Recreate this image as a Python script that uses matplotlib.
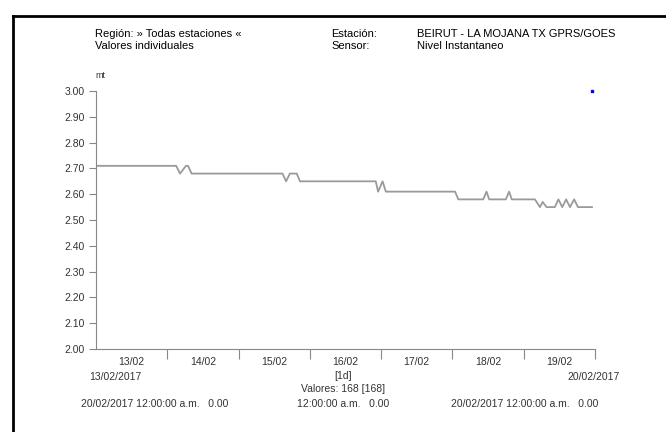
"""
Nivel instantaneo - BEIRUT - LA MOJANA, 13/02/2017 to 20/02/2017.
Saves the figure as out.png.
"""

import matplotlib
matplotlib.use("Agg")
import matplotlib.pyplot as plt
from matplotlib.lines import Line2D

plt.rcParams["font.family"] = ["Liberation Sans Narrow", "Liberation Sans", "DejaVu Sans"]

# hours since 13/02/2017 00:00 and water level (mt) at the line's break points
hours = [0, 27, 28.3, 30.3, 31, 32.2, 62.8, 64, 65.3, 67.6, 68.7,
         94.2, 95, 96.5, 97.6, 120.9, 122, 130.4, 131.5, 132.4,
         138, 139.1, 140, 147.8, 149.5, 150.4, 151.7, 154.5, 155.7,
         157, 158.3, 159.6, 161, 162.3, 167]
level = [2.71, 2.71, 2.68, 2.71, 2.71, 2.68, 2.68, 2.65, 2.68, 2.68, 2.65,
         2.65, 2.61, 2.65, 2.61, 2.61, 2.58, 2.58, 2.61, 2.58,
         2.58, 2.61, 2.58, 2.58, 2.55, 2.57, 2.55, 2.55, 2.58,
         2.55, 2.58, 2.55, 2.58, 2.55, 2.55]

day_labels = ["13/02", "14/02", "15/02", "16/02", "17/02", "18/02", "19/02"]
y_ticks = [2.00, 2.10, 2.20, 2.30, 2.40, 2.50, 2.60, 2.70, 2.80, 2.90, 3.00]

fig = plt.figure(figsize=(6.66, 4.32), dpi=100)
ax = fig.add_axes([0.1441, 0.1921, 0.7492, 0.5972])

ax.plot(hours, level, color="#9a9a9a", lw=1.3)
# the last-value marker in the top right
ax.plot([167], [3.00], marker="s", ms=1.8, color="#0000ff", ls="none", clip_on=False)

ax.set_xlim(0, 168)
ax.set_ylim(2.0, 3.0)

ax.set_yticks(y_ticks)
ax.set_yticklabels([f"{v:.2f}" for v in y_ticks])
ax.set_xticks([24 * (i + 1) for i in range(7)])
ax.set_xticklabels([])
ax.set_xticks([24 * i + 12 for i in range(7)], minor=True)
ax.set_xticklabels(day_labels, minor=True)

ax.tick_params(axis="y", length=5, width=0.8, color="#888888", labelsize=7.5,
               labelcolor="#333333", pad=3)
ax.tick_params(axis="x", which="major", length=7, width=0.8, color="#888888")
ax.tick_params(axis="x", which="minor", length=0, labelsize=7.5,
               labelcolor="#333333", pad=6)

for side in ["top", "right"]:
    ax.spines[side].set_visible(False)
for side in ["left", "bottom"]:
    ax.spines[side].set_color("#888888")
    ax.spines[side].set_linewidth(0.8)

# header
fs = 8
fig.text(95 / 666, 1 - 34 / 432, "Región: » Todas estaciones «", fontsize=fs, va="center")
fig.text(95 / 666, 1 - 46 / 432, "Valores individuales", fontsize=fs, va="center")
fig.text(331 / 666, 1 - 34 / 432, "Estación:", fontsize=fs, va="center")
fig.text(331 / 666, 1 - 46 / 432, "Sensor:", fontsize=fs, va="center")
fig.text(417 / 666, 1 - 34 / 432, "BEIRUT - LA MOJANA TX GPRS/GOES", fontsize=fs, va="center")
fig.text(417 / 666, 1 - 46 / 432, "Nivel Instantaneo", fontsize=fs, va="center")
fig.text(95 / 666, 1 - 75 / 432, "mt", fontsize=6.5, va="center", color="#333333")

# footer
fs2 = 7.5
fig.text(115 / 666, 1 - 377 / 432, "13/02/2017", fontsize=fs2, ha="center", va="center", color="#333333")
fig.text(594 / 666, 1 - 377 / 432, "20/02/2017", fontsize=fs2, ha="center", va="center", color="#333333")
fig.text(343 / 666, 1 - 376 / 432, "[1d]", fontsize=fs2, ha="center", va="center", color="#333333")
fig.text(343 / 666, 1 - 389 / 432, "Valores: 168 [168]", fontsize=fs2, ha="center", va="center", color="#333333")
fig.text(155 / 666, 1 - 404 / 432, "20/02/2017 12:00:00 a.m.   0.00", fontsize=fs2, ha="center", va="center", color="#333333")
fig.text(343 / 666, 1 - 404 / 432, "12:00:00 a.m.   0.00", fontsize=fs2, ha="center", va="center", color="#333333")
fig.text(525 / 666, 1 - 404 / 432, "20/02/2017 12:00:00 a.m.   0.00", fontsize=fs2, ha="center", va="center", color="#333333")

# page frame (left and top edges)
fig.add_artist(Line2D([13 / 666, 13 / 666], [0, 1 - 16 / 432], color="black", lw=2.0))
fig.add_artist(Line2D([13 / 666, 1], [1 - 16 / 432, 1 - 16 / 432], color="black", lw=2.0))

fig.savefig("out.png", dpi=100)
